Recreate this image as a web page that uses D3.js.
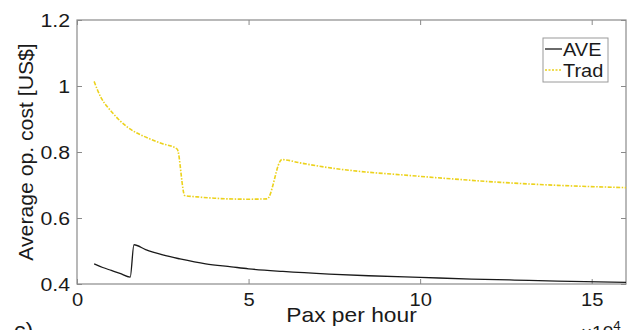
<!DOCTYPE html>
<html lang="en">
<head>
    <meta charset="UTF-8">
    <title>Average op. cost</title>
    <script src="https://d3js.org/d3.v7.min.js"></script>
    <style>
        body {
            margin: 0;
            background: white;
        }
        svg text {
            font-family: "Liberation Sans", Arial, Helvetica, sans-serif;
            fill: #1a1a1a;
        }
    </style>
</head>
<body>
<svg id="viz"></svg>
<script>
    // x values are in units of 10^4 pax per hour
    var aveX = [0.5, 0.75, 1.0, 1.25, 1.55, 1.66, 2.0, 2.5, 3.0, 3.75, 4.5, 5.0, 6.0, 7.35, 8.5, 10, 11.5, 12.75, 14, 16];
    var aveY = [0.461, 0.450, 0.441, 0.432, 0.421, 0.519, 0.504, 0.488, 0.476, 0.461, 0.452, 0.446, 0.438, 0.430, 0.425, 0.420, 0.415, 0.412, 0.409, 0.405];

    var tradX = [0.5, 0.6, 0.7, 0.8, 0.9, 1.0, 1.2, 1.46, 1.7, 1.94, 2.43, 2.92, 3.14, 3.5, 4.0, 4.37, 5.0, 5.54, 5.97, 6.5, 7.3, 8.26, 9.43, 10.5, 12.35, 14, 16];
    var tradY = [1.014, 0.987, 0.965, 0.948, 0.935, 0.923, 0.900, 0.876, 0.860, 0.848, 0.827, 0.809, 0.668, 0.664, 0.660, 0.658, 0.657, 0.658, 0.777, 0.767, 0.753, 0.741, 0.731, 0.722, 0.708, 0.699, 0.692];

    var xTicks = [0, 5, 10, 15];
    var yTicks = [0.4, 0.6, 0.8, 1, 1.2];
    var seriesNames = ["AVE", "Trad"];

    var W = 641, H = 330;
    var margin = {left: 77, right: 15, top: 20, bottom: 46};
    var pw = W - margin.left - margin.right;
    var ph = H - margin.top - margin.bottom;

    var svg = d3.select("#viz")
        .attr("width", W)
        .attr("height", H);

    var xScale = d3.scaleLinear().domain([0, 16]).range([0, pw]);
    var yScale = d3.scaleLinear().domain([0.4, 1.2]).range([ph, 0]);

    var g = svg.append("g")
        .attr("transform", "translate(" + margin.left + "," + margin.top + ")");

    var axisColor = "#8a8a8a";
    var sx = 1.12; // the picture is a little stretched sideways

    // box
    g.append("rect")
        .attr("width", pw).attr("height", ph)
        .attr("fill", "none").attr("stroke", axisColor).attr("stroke-width", 1.2);

    // bottom axis, inward ticks
    var xAxis = g.append("g")
        .attr("transform", "translate(0," + ph + ")")
        .call(d3.axisBottom(xScale).tickValues(xTicks).tickSize(-5).tickPadding(9).tickFormat(d3.format("d")));
    // top ticks
    g.append("g")
        .call(d3.axisTop(xScale).tickValues(xTicks).tickSize(-5).tickFormat(""));
    // left axis
    var yAxis = g.append("g")
        .call(d3.axisLeft(yScale).tickValues(yTicks).tickSize(-5).tickPadding(7).tickFormat(function (d) { return d3.format("")(d); }));
    // right ticks
    g.append("g")
        .attr("transform", "translate(" + pw + ",0)")
        .call(d3.axisRight(yScale).tickValues(yTicks).tickSize(-5).tickFormat(""));

    g.selectAll(".domain").attr("stroke", "none");
    g.selectAll(".tick line").attr("stroke", axisColor).attr("stroke-width", 1);

    xAxis.selectAll("text")
        .attr("font-size", 18)
        .attr("fill", "#1a1a1a")
        .attr("transform", "scale(" + sx + ",1)");
    yAxis.selectAll("text")
        .attr("font-size", 19)
        .attr("fill", "#1a1a1a")
        .attr("x", -7 / sx)
        .attr("transform", "scale(" + sx + ",1)");

    // lines
    var aveData = aveX.map(function (x, i) { return [x, aveY[i]]; });
    var tradData = tradX.map(function (x, i) { return [x, tradY[i]]; });

    var line = d3.line()
        .x(function (d) { return xScale(d[0]); })
        .y(function (d) { return yScale(d[1]); })
        .curve(d3.curveMonotoneX);

    var tradColor = "#ecd21c";

    g.append("path")
        .datum(tradData)
        .attr("d", line)
        .attr("fill", "none")
        .attr("stroke", tradColor)
        .attr("stroke-width", 1.6)
        .attr("stroke-dasharray", "4,1.5,1.5,1.5");

    g.append("path")
        .datum(aveData)
        .attr("d", line)
        .attr("fill", "none")
        .attr("stroke", "#1a1a1a")
        .attr("stroke-width", 1.3);

    // axis titles
    svg.append("text")
        .attr("transform", "translate(" + (margin.left + pw / 2) + ",322) scale(1.14,1)")
        .attr("text-anchor", "middle")
        .attr("font-size", 20)
        .text("Pax per hour");

    svg.append("text")
        .attr("transform", "translate(33," + (margin.top + ph / 2) + ") rotate(-90) scale(1.06,1)")
        .attr("text-anchor", "middle")
        .attr("font-size", 20)
        .text("Average op. cost [US$]");

    // exponent and panel letter, cut by the bottom edge like in the source
    var ex = svg.append("text")
        .attr("transform", "translate(581,338) scale(" + sx + ",1)")
        .attr("font-size", 17);
    ex.append("tspan").text("\u00d710");
    ex.append("tspan").attr("font-size", 12).attr("dy", -8).text("4");

    svg.append("text")
        .attr("transform", "translate(14,337) scale(1.1,1)")
        .attr("font-size", 21)
        .text("c)");

    // legend
    var legend = svg.append("g").attr("transform", "translate(543,38)");
    legend.append("rect")
        .attr("width", 65).attr("height", 44)
        .attr("fill", "white").attr("stroke", "#9a9a9a").attr("stroke-width", 1);

    var legendRows = legend.selectAll("g.row")
        .data(seriesNames)
        .enter().append("g")
        .attr("class", "row")
        .attr("transform", function (d, i) { return "translate(0," + (11 + i * 21) + ")"; });

    legendRows.append("line")
        .attr("x1", 2).attr("x2", 19)
        .attr("stroke", function (d, i) { return i === 0 ? "#1a1a1a" : tradColor; })
        .attr("stroke-width", function (d, i) { return i === 0 ? 1.3 : 1.6; })
        .attr("stroke-dasharray", function (d, i) { return i === 0 ? null : "2,1.5"; });

    legendRows.append("text")
        .attr("transform", "translate(20,6.5) scale(1.08,1)")
        .attr("font-size", 18.5)
        .text(function (d) { return d; });
</script>
</body>
</html>
